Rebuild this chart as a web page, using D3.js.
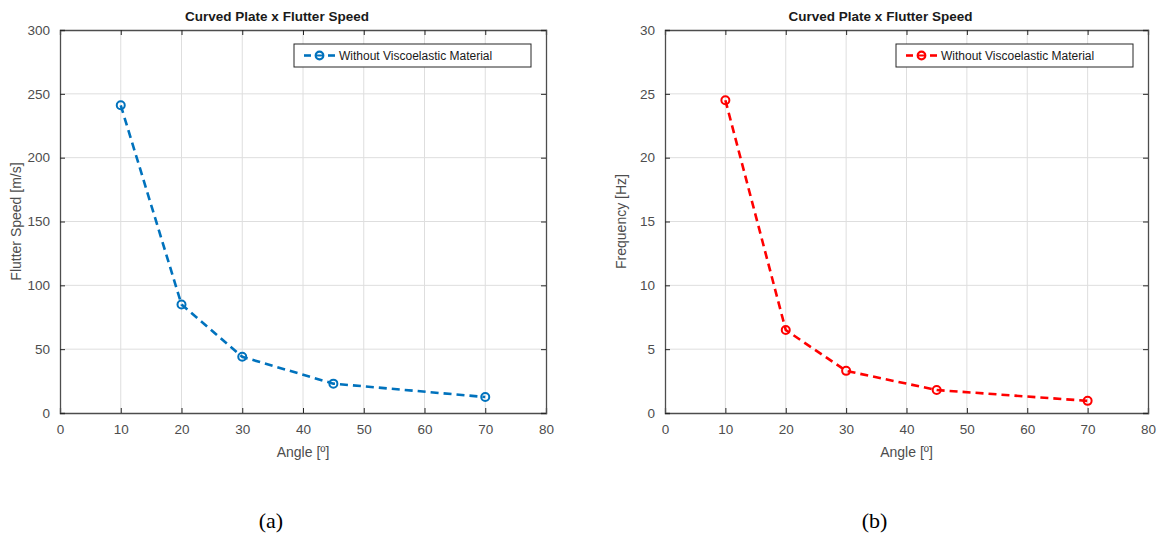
<!DOCTYPE html>
<html><head><meta charset="utf-8">
<script src="https://cdn.jsdelivr.net/npm/d3@7"></script>
<style>
html,body{margin:0;padding:0;background:#fff;}
svg{display:block;}
</style></head>
<body>
<svg id="chart" width="1164" height="538"></svg>
<script>
const angles = [10, 20, 30, 45, 70];
const flutterSpeed = [241, 85, 44, 23, 12.5];
const frequency = [24.5, 6.5, 3.3, 1.8, 0.95];
const xTicks = [0, 10, 20, 30, 40, 50, 60, 70, 80];
const speedTicks = [0, 50, 100, 150, 200, 250, 300];
const freqTicks = [0, 5, 10, 15, 20, 25, 30];
const titles = ["Curved Plate x Flutter Speed", "Curved Plate x Flutter Speed"];
const yLabels = ["Flutter Speed [m/s]", "Frequency [Hz]"];
const xLabel = "Angle [º]";
const legendLabel = "Without Viscoelastic Material";
const captions = ["(a)", "(b)"];

const svg = d3.select("#chart");
const font = "'Liberation Sans', Arial, Helvetica, sans-serif";

function panel(opts) {
  const {left, right, top, bottom, values, yMax, yTicks, color, title, yLabel, caption} = opts;
  const g = svg.append("g");
  const x = d3.scaleLinear().domain([0, 80]).range([left, right]);
  const y = d3.scaleLinear().domain([0, yMax]).range([bottom, top]);

  // grid
  g.append("g").selectAll("line.vx").data(xTicks.slice(1, -1)).join("line")
    .attr("x1", d => x(d)).attr("x2", d => x(d)).attr("y1", top).attr("y2", bottom)
    .attr("stroke", "#dedede").attr("stroke-width", 1);
  g.append("g").selectAll("line.hy").data(yTicks.slice(1, -1)).join("line")
    .attr("y1", d => y(d)).attr("y2", d => y(d)).attr("x1", left).attr("x2", right)
    .attr("stroke", "#dedede").attr("stroke-width", 1);

  // axes
  const axColor = "#4d4d4d";
  const xb = g.append("g").attr("transform", `translate(0,${bottom})`)
    .call(d3.axisBottom(x).tickValues(xTicks).tickSize(-5).tickPadding(11).tickFormat(d3.format("d")));
  const xt = g.append("g").attr("transform", `translate(0,${top})`)
    .call(d3.axisTop(x).tickValues(xTicks).tickSize(-5).tickFormat(""));
  const yl = g.append("g").attr("transform", `translate(${left},0)`)
    .call(d3.axisLeft(y).tickValues(yTicks).tickSize(-5).tickPadding(10).tickFormat(d3.format("d")));
  const yr = g.append("g").attr("transform", `translate(${right},0)`)
    .call(d3.axisRight(y).tickValues(yTicks).tickSize(-5).tickFormat(""));
  [xb, xt, yl, yr].forEach(a => {
    a.select(".domain").attr("stroke", axColor).attr("stroke-width", 1.3);
    a.selectAll(".tick line").attr("stroke", "#262626");
    a.selectAll(".tick text").attr("fill", "#4d4d4d").style("font-family", font).style("font-size", "13.5px");
  });

  // line
  const line = d3.line().x((d, i) => x(angles[i])).y(d => y(d)).curve(d3.curveLinear);
  g.append("path").datum(values).attr("d", line)
    .attr("fill", "none").attr("stroke", color).attr("stroke-width", 2.6)
    .attr("stroke-dasharray", "8,5");
  g.append("g").selectAll("circle").data(values).join("circle")
    .attr("cx", (d, i) => x(angles[i])).attr("cy", d => y(d)).attr("r", 4)
    .attr("fill", "none").attr("stroke", color).attr("stroke-width", 2);

  // title
  g.append("text").attr("x", (left + right) / 2 - 26).attr("y", top - 9)
    .attr("text-anchor", "middle").style("font-family", font).style("font-size", "13.5px")
    .style("font-weight", "bold").attr("fill", "#1a1a1a").text(title);
  // x label
  g.append("text").attr("x", (left + right) / 2).attr("y", bottom + 44)
    .attr("text-anchor", "middle").style("font-family", font).style("font-size", "14px")
    .attr("fill", "#4d4d4d").text(xLabel);
  // y label
  g.append("text").attr("transform", `translate(${left - 39},${(top + bottom) / 2}) rotate(-90)`)
    .attr("text-anchor", "middle").style("font-family", font).style("font-size", "14px")
    .attr("fill", "#4d4d4d").text(yLabel);

  // legend
  const lw = 237, lh = 23;
  const lx = right - 15 - lw, ly = top + 14;
  const lg = g.append("g");
  lg.append("rect").attr("x", lx).attr("y", ly).attr("width", lw).attr("height", lh)
    .attr("fill", "#fff").attr("stroke", "#262626").attr("stroke-width", 1);
  const cy = ly + lh / 2;
  lg.append("line").attr("x1", lx + 10).attr("x2", lx + 17).attr("y1", cy).attr("y2", cy)
    .attr("stroke", color).attr("stroke-width", 2.6);
  lg.append("line").attr("x1", lx + 34).attr("x2", lx + 41).attr("y1", cy).attr("y2", cy)
    .attr("stroke", color).attr("stroke-width", 2.6);
  lg.append("circle").attr("cx", lx + 25.5).attr("cy", cy).attr("r", 3.8)
    .attr("fill", "none").attr("stroke", color).attr("stroke-width", 2.2);
  lg.append("line").attr("x1", lx + 22).attr("x2", lx + 29).attr("y1", cy).attr("y2", cy)
    .attr("stroke", color).attr("stroke-width", 2);
  lg.append("text").attr("x", lx + 45).attr("y", cy + 4.5)
    .style("font-family", font).style("font-size", "12px").attr("fill", "#1a1a1a").text(legendLabel);

  // caption
  g.append("text").attr("x", (left + right) / 2 - 32).attr("y", 528)
    .attr("text-anchor", "middle").style("font-family", "'Liberation Serif', 'Times New Roman', serif")
    .style("font-size", "22px").attr("fill", "#000").text(caption);
}

panel({left: 60, right: 546, top: 30, bottom: 413, values: flutterSpeed, yMax: 300,
  yTicks: speedTicks, color: "#0072BD", title: titles[0], yLabel: yLabels[0], caption: captions[0]});
panel({left: 665, right: 1148, top: 30, bottom: 413, values: frequency, yMax: 30,
  yTicks: freqTicks, color: "#FF0000", title: titles[1], yLabel: yLabels[1], caption: captions[1]});
</script>
</body></html>
